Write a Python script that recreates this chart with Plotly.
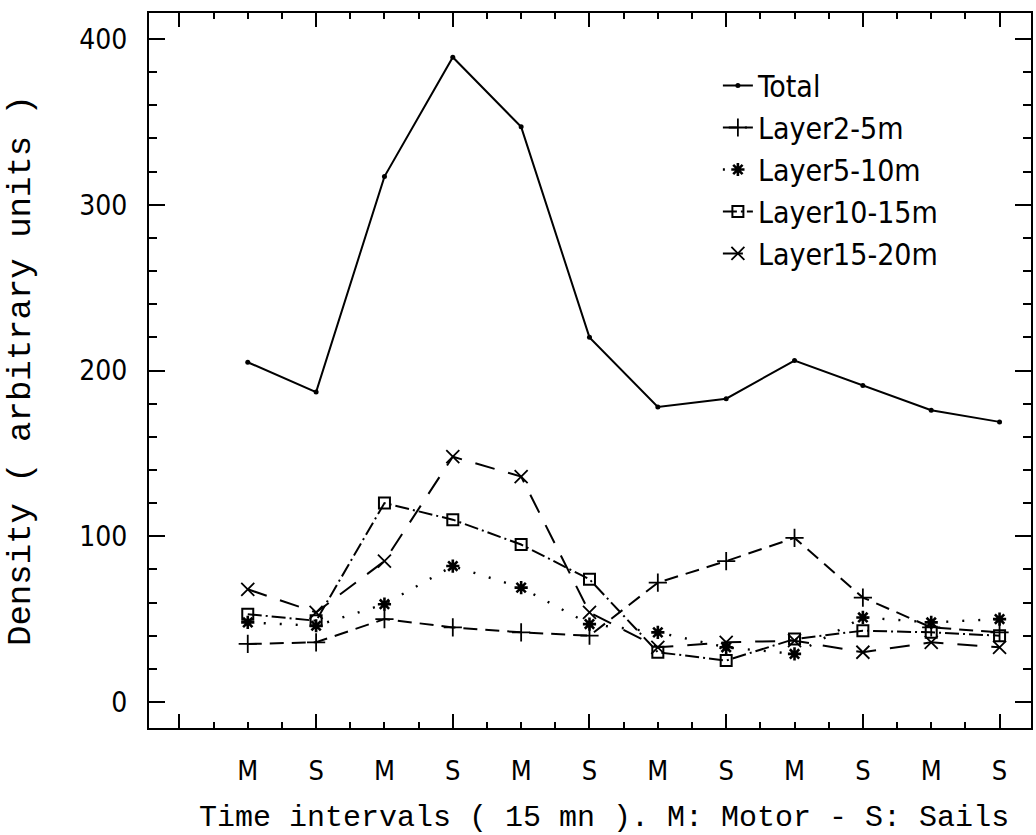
import plotly.graph_objects as go

# ---- data ----
x_pos = list(range(1, 13))
x_labels = ["M", "S", "M", "S", "M", "S", "M", "S", "M", "S", "M", "S"]

total = [205, 187, 317, 389, 347, 220, 178, 183, 206, 191, 176, 169]
layer_2_5 = [35, 36, 50, 45, 42, 40, 72, 85, 99, 63, 45, 42]
layer_5_10 = [48, 46, 59, 82, 69, 47, 42, 33, 29, 51, 48, 50]
layer_10_15 = [53, 49, 120, 110, 95, 74, 30, 25, 38, 43, 42, 40]
layer_15_20 = [68, 54, 85, 148, 136, 54, 33, 36, 37, 30, 36, 33]

series_names = ["Total", "Layer2-5m", "Layer5-10m", "Layer10-15m", "Layer15-20m"]

# ---- styling ----
X_RANGE = [-0.445, 12.46]
Y_RANGE = [-15.7, 415.7]
SANS = "DejaVu Sans Condensed, Liberation Sans Narrow, DejaVu Sans"
TICK_FONT = dict(family=SANS, size=28, color="black")
TITLE_FONT = "Liberation Mono, Courier New, monospace"

styles = [
    dict(line=dict(color="black", width=2, dash="solid"),
         marker=dict(symbol="circle", size=5, color="black")),
    dict(line=dict(color="black", width=2, dash="14px,8px"),
         marker=dict(symbol="cross-thin", size=13, color="black", line=dict(color="black", width=1.8))),
    dict(line=dict(color="black", width=2.4, dash="2px,14px"),
         marker=dict(symbol="asterisk-open", size=11, color="black", line=dict(color="black", width=2.6))),
    dict(line=dict(color="black", width=2, dash="14px,4px,2px,4px"),
         marker=dict(symbol="square-open", size=11, color="black", line=dict(color="black", width=2))),
    dict(line=dict(color="black", width=2, dash="20px,14px"),
         marker=dict(symbol="x-thin", size=13, color="black", line=dict(color="black", width=1.8))),
]

fig = go.Figure()
for name, vals, st in zip(series_names, [total, layer_2_5, layer_5_10, layer_10_15, layer_15_20], styles):
    fig.add_trace(go.Scatter(x=x_pos, y=vals, name=name, mode="lines+markers",
                             line=st["line"], marker=st["marker"], legendgroup=name))

# empty traces to register the tick-mark axes
fig.add_trace(go.Scatter(x=[], y=[], xaxis="x2", yaxis="y", showlegend=False, hoverinfo="skip"))
fig.add_trace(go.Scatter(x=[], y=[], xaxis="x", yaxis="y2", showlegend=False, hoverinfo="skip"))
fig.add_trace(go.Scatter(x=[], y=[], xaxis="x", yaxis="y3", showlegend=False, hoverinfo="skip"))

tick_common = dict(tickwidth=2, tickcolor="black", showline=True, linecolor="black", linewidth=2,
                   mirror="ticks", showticklabels=False, showgrid=False, zeroline=False)

fig.update_layout(
    width=1036, height=835,
    margin=dict(l=149, r=3, t=13, b=107),
    paper_bgcolor="white", plot_bgcolor="white",
    showlegend=True,
    legend=dict(x=0.645, y=0.935, xanchor="left", yanchor="top",
                font=dict(family=SANS, size=30, color="black"),
                bgcolor="rgba(0,0,0,0)", tracegroupgap=0, itemwidth=30),
    xaxis=dict(range=X_RANGE, tickmode="array", tickvals=x_pos, ticktext=x_labels,
               ticks="", showline=True, linecolor="black", linewidth=2, mirror=True,
               showgrid=False, zeroline=False, tickfont=dict(family=SANS, size=27, color="black"),
               ticklabelstandoff=18),
    xaxis2=dict(range=X_RANGE, overlaying="x", anchor="y", side="bottom",
                tickmode="linear", tick0=0, dtick=2, ticks="inside", ticklen=14,
                minor=dict(dtick=0.5, tick0=0, ticks="inside", ticklen=6, tickwidth=2,
                           tickcolor="black", showgrid=False),
                **tick_common),
    yaxis=dict(range=Y_RANGE, tickmode="linear", tick0=0, dtick=100,
               ticks="", showline=True, linecolor="black", linewidth=2, mirror=True,
               showgrid=False, zeroline=False, tickfont=TICK_FONT, ticklabelstandoff=14,
               title=dict(text="Density ( arbitrary units )",
                          font=dict(family=TITLE_FONT, size=34, color="black"), standoff=38)),
    yaxis2=dict(range=Y_RANGE, overlaying="y", anchor="x", side="left",
                tickmode="linear", tick0=0, dtick=100, ticks="inside", ticklen=16,
                **tick_common),
    yaxis3=dict(range=Y_RANGE, overlaying="y", anchor="x", side="left",
                tickmode="linear", tick0=0, dtick=20, ticks="inside", ticklen=8,
                **tick_common),
    annotations=[dict(text="Time intervals ( 15 mn ). M: Motor - S: Sails",
                      xref="paper", yref="paper", x=0.516, y=-0.126,
                      xanchor="center", yanchor="middle", showarrow=False,
                      font=dict(family=TITLE_FONT, size=30, color="black"))],
)

fig.write_html("out.html")
